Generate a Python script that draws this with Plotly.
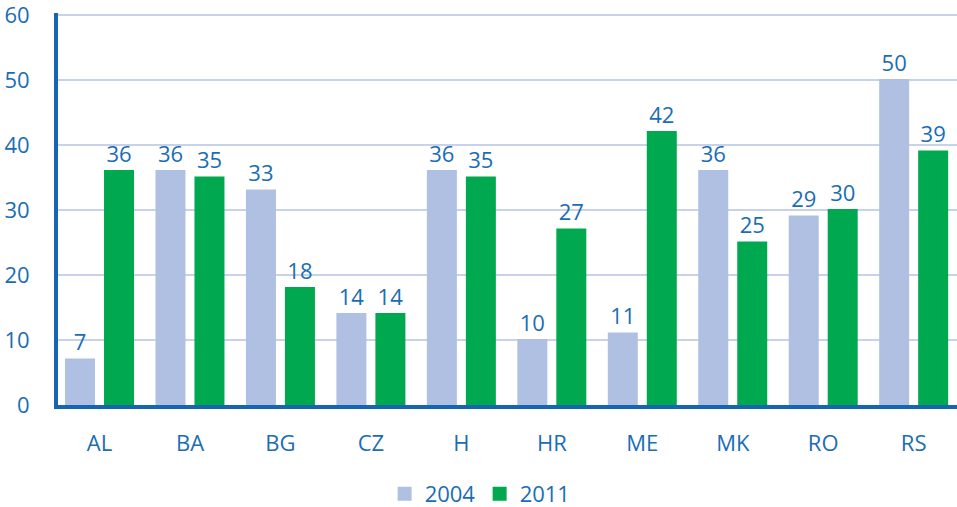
import plotly.graph_objects as go

categories = ["AL", "BA", "BG", "CZ", "H", "HR", "ME", "MK", "RO", "RS"]
values_2004 = [7, 36, 33, 14, 36, 10, 11, 36, 29, 50]
values_2011 = [36, 35, 18, 14, 35, 27, 42, 25, 30, 39]
y_ticks = [0, 10, 20, 30, 40, 50, 60]

blue = "#1a6db5"
axis_blue = "#1565b0"
c2004 = "#afc0e2"
c2011 = "#00a84f"
font_family = "Open Sans, Noto Sans, sans-serif"

W, H = 957, 507

fig = go.Figure()
fig.add_trace(go.Bar(
    name="2004", x=categories, y=values_2004,
    marker=dict(color=c2004, line=dict(width=2, color=c2004)),
    text=values_2004, textposition="outside", cliponaxis=False,
    textfont=dict(color=blue, size=22, family=font_family),
))
fig.add_trace(go.Bar(
    name="2011", x=categories, y=values_2011,
    marker=dict(color=c2011, line=dict(width=2, color=c2011)),
    text=values_2011, textposition="outside", cliponaxis=False,
    textfont=dict(color=blue, size=22, family=font_family),
))

fig.update_layout(
    width=W, height=H,
    margin=dict(l=58, r=0, t=13, b=102, autoexpand=False),
    paper_bgcolor="white", plot_bgcolor="white",
    barmode="group", bargap=0.138, bargroupgap=0.282,
    font=dict(family=font_family, color=blue, size=22),
    showlegend=True,
    legend=dict(orientation="h", x=0.469, xanchor="center", yref="container", y=13 / H, yanchor="middle",
                font=dict(size=22, color=blue), itemwidth=30, entrywidth=50),
)
fig.update_xaxes(
    automargin=False, range=[-0.459, 9.479],
    showgrid=False, showline=True, linecolor=axis_blue, linewidth=4,
    ticks="outside", ticklen=16, tickcolor="rgba(0,0,0,0)",
    tickfont=dict(size=22, color=blue), zeroline=False,
)
fig.update_yaxes(
    automargin=False, ticklabeloverflow="allow",
    range=[0, 60.3], tickvals=y_ticks, showgrid=True, gridcolor="#c8d2eb", gridwidth=2,
    showline=True, linecolor=axis_blue, linewidth=4, zeroline=False,
    ticks="outside", ticklen=20, tickcolor="rgba(0,0,0,0)",
    tickfont=dict(size=22, color=blue),
)

fig.write_html("out.html", config={"displayModeBar": False},
               post_script="document.body.style.margin='0';")
